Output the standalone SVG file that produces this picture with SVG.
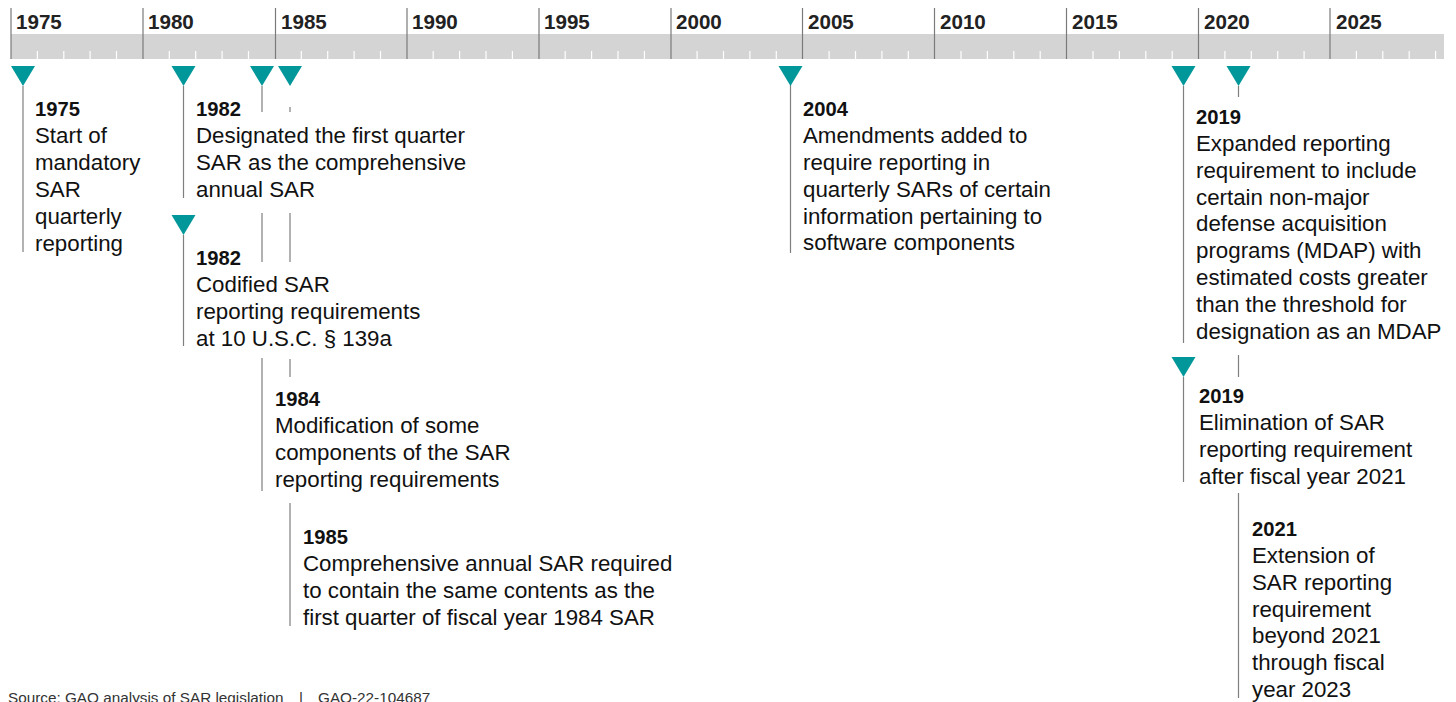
<svg xmlns="http://www.w3.org/2000/svg" width="1456" height="702" viewBox="0 0 1456 702">
<style>
.yr{font-family:"Liberation Sans",Arial,sans-serif;font-weight:bold;font-size:20.6px;fill:#222}
.hd{font-family:"Liberation Sans",Arial,sans-serif;font-weight:bold;font-size:20.2px;fill:#111}
.bd{font-family:"Liberation Sans",Arial,sans-serif;font-size:22.3px;fill:#111}
.src{font-family:"Liberation Sans",Arial,sans-serif;font-size:15.3px;fill:#333}
.maj{stroke:#7a7a7a;stroke-width:1.2}
.min{stroke:#ffffff;stroke-width:1.2}
.con{stroke:#7f7f7f;stroke-width:1.2;fill:none}
.tri{fill:#00979a}
</style>
<rect width="1456" height="702" fill="#ffffff"/>
<g id="axis">
<rect x="11" y="34" width="1433" height="25" fill="#d4d4d4"/>
<g class="min">
<line x1="37.4" y1="51" x2="37.4" y2="59"/><line x1="63.8" y1="51" x2="63.8" y2="59"/><line x1="90.1" y1="51" x2="90.1" y2="59"/><line x1="116.5" y1="51" x2="116.5" y2="59"/>
<line x1="169.3" y1="51" x2="169.3" y2="59"/><line x1="195.7" y1="51" x2="195.7" y2="59"/><line x1="222.1" y1="51" x2="222.1" y2="59"/><line x1="248.5" y1="51" x2="248.5" y2="59"/>
<line x1="301.3" y1="51" x2="301.3" y2="59"/><line x1="327.7" y1="51" x2="327.7" y2="59"/><line x1="354.1" y1="51" x2="354.1" y2="59"/><line x1="380.5" y1="51" x2="380.5" y2="59"/>
<line x1="433.2" y1="51" x2="433.2" y2="59"/><line x1="459.6" y1="51" x2="459.6" y2="59"/><line x1="486" y1="51" x2="486" y2="59"/><line x1="512.4" y1="51" x2="512.4" y2="59"/>
<line x1="565.2" y1="51" x2="565.2" y2="59"/><line x1="591.6" y1="51" x2="591.6" y2="59"/><line x1="618" y1="51" x2="618" y2="59"/><line x1="644.4" y1="51" x2="644.4" y2="59"/>
<line x1="697.1" y1="51" x2="697.1" y2="59"/><line x1="723.5" y1="51" x2="723.5" y2="59"/><line x1="749.9" y1="51" x2="749.9" y2="59"/><line x1="776.3" y1="51" x2="776.3" y2="59"/>
<line x1="829.1" y1="51" x2="829.1" y2="59"/><line x1="855.5" y1="51" x2="855.5" y2="59"/><line x1="881.9" y1="51" x2="881.9" y2="59"/><line x1="908.3" y1="51" x2="908.3" y2="59"/>
<line x1="961" y1="51" x2="961" y2="59"/><line x1="987.4" y1="51" x2="987.4" y2="59"/><line x1="1013.8" y1="51" x2="1013.8" y2="59"/><line x1="1040.2" y1="51" x2="1040.2" y2="59"/>
<line x1="1093" y1="51" x2="1093" y2="59"/><line x1="1119.4" y1="51" x2="1119.4" y2="59"/><line x1="1145.8" y1="51" x2="1145.8" y2="59"/><line x1="1172.2" y1="51" x2="1172.2" y2="59"/>
<line x1="1224.9" y1="51" x2="1224.9" y2="59"/><line x1="1251.3" y1="51" x2="1251.3" y2="59"/><line x1="1277.7" y1="51" x2="1277.7" y2="59"/><line x1="1304.1" y1="51" x2="1304.1" y2="59"/>
<line x1="1356.4" y1="51" x2="1356.4" y2="59"/><line x1="1382.8" y1="51" x2="1382.8" y2="59"/><line x1="1409.2" y1="51" x2="1409.2" y2="59"/><line x1="1435.6" y1="51" x2="1435.6" y2="59"/>
</g>
<g class="maj">
<line x1="11" y1="8" x2="11" y2="59"/><line x1="143" y1="8" x2="143" y2="59"/><line x1="275.5" y1="8" x2="275.5" y2="59"/><line x1="407" y1="8" x2="407" y2="59"/><line x1="539" y1="8" x2="539" y2="59"/><line x1="671" y1="8" x2="671" y2="59"/><line x1="802.5" y1="8" x2="802.5" y2="59"/><line x1="934.5" y1="8" x2="934.5" y2="59"/><line x1="1066.5" y1="8" x2="1066.5" y2="59"/><line x1="1198.5" y1="8" x2="1198.5" y2="59"/><line x1="1330" y1="8" x2="1330" y2="59"/>
</g>
<g class="yr">
<text x="16" y="29">1975</text><text x="148" y="29">1980</text><text x="281" y="29">1985</text><text x="412" y="29">1990</text><text x="544" y="29">1995</text><text x="676" y="29">2000</text><text x="808" y="29">2005</text><text x="940" y="29">2010</text><text x="1072" y="29">2015</text><text x="1204" y="29">2020</text><text x="1336" y="29">2025</text>
</g>
</g>
<g id="connectors" class="con">
<line x1="23" y1="86" x2="23" y2="252"/>
<line x1="183.5" y1="86" x2="183.5" y2="198"/>
<line x1="183.5" y1="235" x2="183.5" y2="346"/>
<line x1="262" y1="86" x2="262" y2="112"/>
<line x1="262" y1="213" x2="262" y2="262"/>
<line x1="262" y1="358" x2="262" y2="491"/>
<line x1="290" y1="107" x2="290" y2="112"/>
<line x1="290" y1="213" x2="290" y2="262"/>
<line x1="290" y1="359" x2="290" y2="377"/>
<line x1="290" y1="503" x2="290" y2="626"/>
<line x1="790.5" y1="85" x2="790.5" y2="253"/>
<line x1="1183.5" y1="86" x2="1183.5" y2="343"/>
<line x1="1183.5" y1="377" x2="1183.5" y2="482"/>
<line x1="1238.5" y1="86" x2="1238.5" y2="97"/>
<line x1="1238.5" y1="355" x2="1238.5" y2="377"/>
<line x1="1238.5" y1="493" x2="1238.5" y2="698"/>
</g>
<g id="e1975">
<polygon class="tri" points="11,66 35,66 23,86"/>
<text class="hd" x="35" y="116">1975</text>
<text class="bd" x="35" y="143">Start of</text>
<text class="bd" x="35" y="170">mandatory</text>
<text class="bd" x="35" y="197">SAR</text>
<text class="bd" x="35" y="224">quarterly</text>
<text class="bd" x="35" y="250.5">reporting</text>
</g>
<g id="e1982a">
<polygon class="tri" points="171.5,66 195.5,66 183.5,86"/>
<text class="hd" x="196" y="116">1982</text>
<text class="bd" x="196" y="143">Designated the first quarter</text>
<text class="bd" x="196" y="170">SAR as the comprehensive</text>
<text class="bd" x="196" y="197">annual SAR</text>
</g>
<g id="e1982b">
<polygon class="tri" points="171.5,215 195.5,215 183.5,235"/>
<text class="hd" x="196" y="265">1982</text>
<text class="bd" x="196" y="292">Codified SAR</text>
<text class="bd" x="196" y="319">reporting requirements</text>
<text class="bd" x="196" y="345.5">at 10 U.S.C. § 139a</text>
</g>
<g id="e1984">
<polygon class="tri" points="250,66 274,66 262,86"/>
<text class="hd" x="275" y="406">1984</text>
<text class="bd" x="275" y="433">Modification of some</text>
<text class="bd" x="275" y="460">components of the SAR</text>
<text class="bd" x="275" y="486.5">reporting requirements</text>
</g>
<g id="e1985">
<polygon class="tri" points="278,66 302,66 290,86"/>
<text class="hd" x="303" y="544">1985</text>
<text class="bd" x="303" y="571">Comprehensive annual SAR required</text>
<text class="bd" x="303" y="598">to contain the same contents as the</text>
<text class="bd" x="303" y="624.5">first quarter of fiscal year 1984 SAR</text>
</g>
<g id="e2004">
<polygon class="tri" points="778.5,66 802.5,66 790.5,86"/>
<text class="hd" x="803" y="116">2004</text>
<text class="bd" x="803" y="143">Amendments added to</text>
<text class="bd" x="803" y="170">require reporting in</text>
<text class="bd" x="803" y="197">quarterly SARs of certain</text>
<text class="bd" x="803" y="223.5">information pertaining to</text>
<text class="bd" x="803" y="250">software components</text>
</g>
<g id="e2019a">
<polygon class="tri" points="1171.5,66 1195.5,66 1183.5,86"/>
<text class="hd" x="1196" y="124">2019</text>
<text class="bd" x="1196" y="151">Expanded reporting</text>
<text class="bd" x="1196" y="177.8">requirement to include</text>
<text class="bd" x="1196" y="204.6">certain non-major</text>
<text class="bd" x="1196" y="231.4">defense acquisition</text>
<text class="bd" x="1196" y="258.2">programs (MDAP) with</text>
<text class="bd" x="1196" y="285">estimated costs greater</text>
<text class="bd" x="1196" y="311.8">than the threshold for</text>
<text class="bd" x="1196" y="338.6">designation as an MDAP</text>
</g>
<g id="e2019b">
<polygon class="tri" points="1171.5,357 1195.5,357 1183.5,377"/>
<text class="hd" x="1199" y="403">2019</text>
<text class="bd" x="1199" y="430">Elimination of SAR</text>
<text class="bd" x="1199" y="457">reporting requirement</text>
<text class="bd" x="1199" y="483.5">after fiscal year 2021</text>
</g>
<g id="e2021">
<polygon class="tri" points="1226.5,66 1250.5,66 1238.5,86"/>
<text class="hd" x="1252" y="536">2021</text>
<text class="bd" x="1252" y="563">Extension of</text>
<text class="bd" x="1252" y="589.8">SAR reporting</text>
<text class="bd" x="1252" y="616.6">requirement</text>
<text class="bd" x="1252" y="643.4">beyond 2021</text>
<text class="bd" x="1252" y="670.2">through fiscal</text>
<text class="bd" x="1252" y="697">year 2023</text>
</g>
<g id="source">
<text class="src" x="8" y="702.5">Source: GAO analysis of SAR legislation</text>
<text class="src" x="299" y="702.5">|</text>
<text class="src" x="318" y="702.5">GAO-22-104687</text>
</g>
</svg>
